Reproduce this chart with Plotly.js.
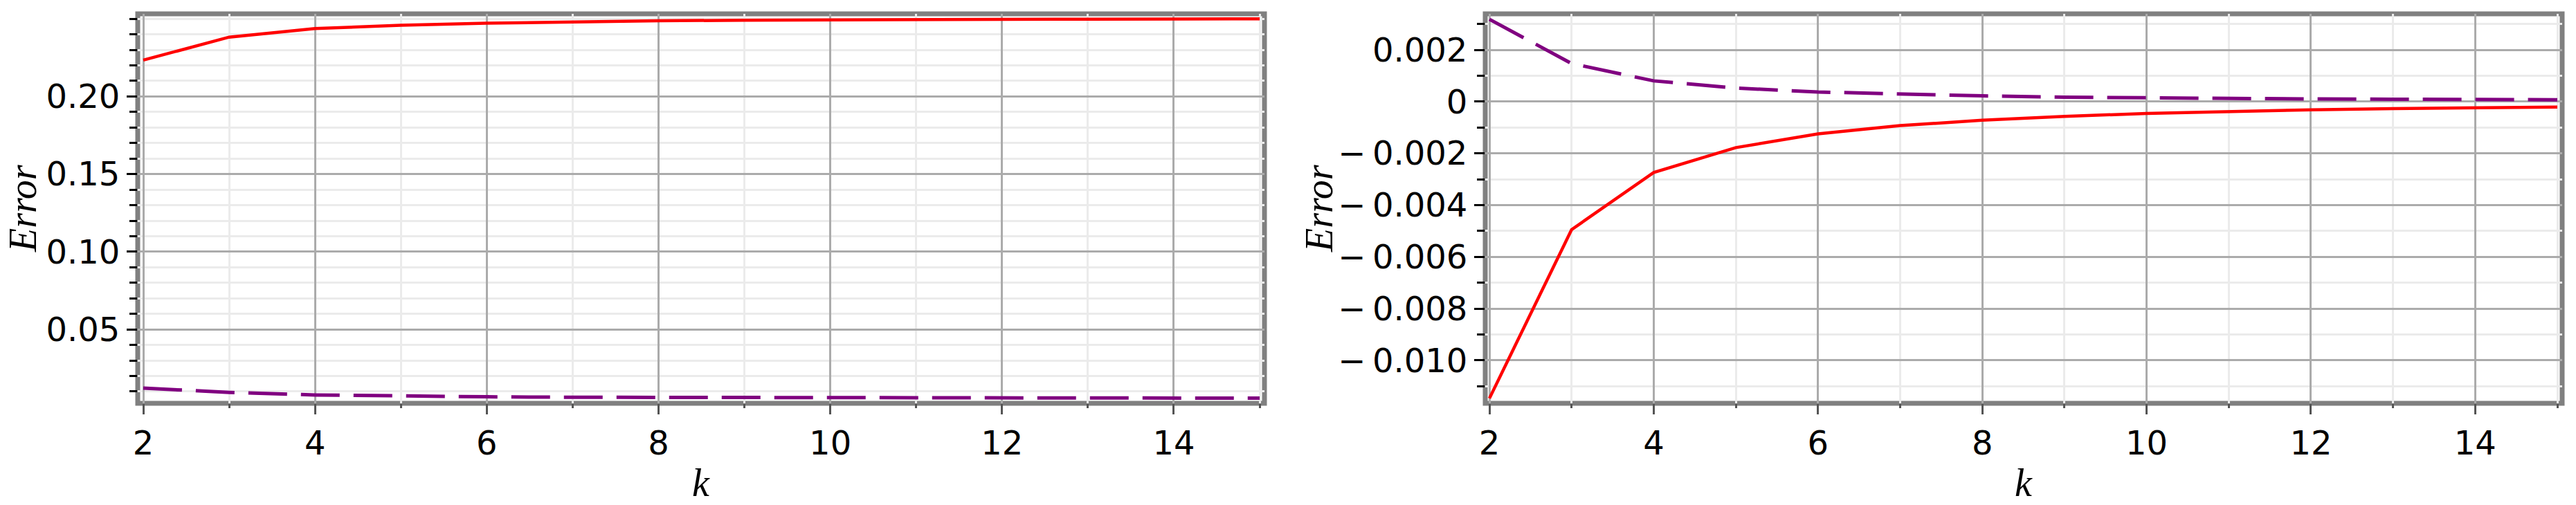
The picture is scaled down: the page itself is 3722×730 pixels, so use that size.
<!DOCTYPE html>
<html>
<head>
<meta charset="utf-8">
<script src="https://cdn.plot.ly/plotly-3.0.1.min.js"></script>
<style>html,body{margin:0;padding:0;background:#fff;}#plot{width:3722px;height:730px;}</style>
</head>
<body>
<div id="plot"></div>
<script>
// ---- data ----
const k = [2, 3, 4, 5, 6, 7, 8, 9, 10, 11, 12, 13, 14, 15];
const errRedLeft = [0.2234, 0.2382, 0.2437, 0.2458, 0.2472, 0.2481, 0.2487, 0.2491, 0.2494, 0.2496, 0.2497, 0.2498, 0.2499, 0.2500];
const errPurpleLeft = [0.0122, 0.0094, 0.0078, 0.0070, 0.0066, 0.0063, 0.0062, 0.0061, 0.0060, 0.0059, 0.0058, 0.0058, 0.0057, 0.0057];
const errRedRight = [-0.01147, -0.00495, -0.00274, -0.00178, -0.00125, -0.00093, -0.00072, -0.00057, -0.00046, -0.00038, -0.00032, -0.00027, -0.00024, -0.00021];
const errPurpleRight = [0.00318, 0.00147, 0.00080, 0.00052, 0.00037, 0.00028, 0.00022, 0.00017, 0.00014, 0.00012, 0.00010, 0.00009, 0.00008, 0.00007];

const xTickVals = [2, 4, 6, 8, 10, 12, 14];
const xTickText = ['2', '4', '6', '8', '10', '12', '14'];
const yTickValsLeft = [0.05, 0.10, 0.15, 0.20];
const yTickTextLeft = ['0.05', '0.10', '0.15', '0.20'];
const yTickValsRight = [-0.010, -0.008, -0.006, -0.004, -0.002, 0, 0.002];
const yTickTextRight = ['\u2212\u20090.010', '\u2212\u20090.008', '\u2212\u20090.006', '\u2212\u20090.004', '\u2212\u20090.002', '0', '0.002'];
const xTitle = 'k';
const yTitle = 'Error';

// ---- styles ----
const W = 3722, H = 730;
const tickFont = {family: 'DejaVu Sans', size: 48, color: '#000'};
const majorGrid = '#ababab', minorGrid = '#ebebeb';

function xAxis(domain, range, anchor) {
  return {
    domain: domain, range: range, anchor: anchor,
    tickmode: 'array', tickvals: xTickVals, ticktext: xTickText,
    ticks: 'outside', ticklen: 15, tickwidth: 3, tickcolor: '#555',
    showgrid: true, gridcolor: majorGrid, gridwidth: 3,
    minor: {tickmode: 'linear', tick0: 1, dtick: 1, ticks: 'outside', ticklen: 6, tickwidth: 3, tickcolor: '#555',
            showgrid: true, gridcolor: minorGrid, gridwidth: 3},
    showline: false, zeroline: false, tickfont: tickFont, fixedrange: true
  };
}
function yAxis(range, vals, text, anchor, minorD) {
  return {
    domain: [147 / H, 710 / H], range: range, anchor: anchor,
    tickmode: 'array', tickvals: vals, ticktext: text,
    ticks: 'outside', ticklen: 15, tickwidth: 3, tickcolor: '#000',
    showgrid: true, gridcolor: majorGrid, gridwidth: 3,
    minor: {tickmode: 'linear', tick0: 0, dtick: minorD, ticks: 'outside', ticklen: 11, tickwidth: 3, tickcolor: '#000',
            showgrid: true, gridcolor: minorGrid, gridwidth: 3},
    showline: false, zeroline: false, tickfont: tickFont, fixedrange: true
  };
}

const redLine = {color: '#ff0000', width: 4.5};
const purpleLine = {color: '#800080', width: 5, dash: '56px,20px'};

const traces = [
  {x: k, y: errRedLeft, xaxis: 'x', yaxis: 'y', mode: 'lines', line: redLine, hoverinfo: 'skip'},
  {x: k, y: errPurpleLeft, xaxis: 'x', yaxis: 'y', mode: 'lines', line: purpleLine, hoverinfo: 'skip'},
  {x: k, y: errRedRight, xaxis: 'x2', yaxis: 'y2', mode: 'lines', line: redLine, hoverinfo: 'skip'},
  {x: k, y: errPurpleRight, xaxis: 'x2', yaxis: 'y2', mode: 'lines', line: purpleLine, hoverinfo: 'skip'}
];

const boxL = {type: 'rect', xref: 'x domain', yref: 'y domain', x0: 0, x1: 1, y0: 0, y1: 1,
              line: {color: '#808080', width: 7}, layer: 'below'};
const boxR = {type: 'rect', xref: 'x2 domain', yref: 'y2 domain', x0: 0, x1: 1, y0: 0, y1: 1,
              line: {color: '#808080', width: 7}, layer: 'below'};

const titleFont = {family: 'Liberation Serif', size: 56, color: '#000'};
const annotations = [
  {text: '<i>' + yTitle + '</i>', xref: 'paper', yref: 'paper', x: 33 / W, y: (H - 302) / H, textangle: -90,
   showarrow: false, xanchor: 'center', yanchor: 'middle', font: titleFont},
  {text: '<i>' + yTitle + '</i>', xref: 'paper', yref: 'paper', x: 1906 / W, y: (H - 302) / H, textangle: -90,
   showarrow: false, xanchor: 'center', yanchor: 'middle', font: titleFont},
  {text: '<i>' + xTitle + '</i>', xref: 'paper', yref: 'paper', x: 1013 / W, y: 0,
   showarrow: false, xanchor: 'center', yanchor: 'bottom', borderpad: 0, font: titleFont},
  {text: '<i>' + xTitle + '</i>', xref: 'paper', yref: 'paper', x: 2924 / W, y: 0,
   showarrow: false, xanchor: 'center', yanchor: 'bottom', borderpad: 0, font: titleFont}
];

const layout = {
  width: W, height: H,
  margin: {l: 0, r: 0, t: 0, b: 0},
  paper_bgcolor: '#fff', plot_bgcolor: '#fff',
  showlegend: false,
  xaxis: xAxis([199 / W, 1827 / W], [1.9355, 15.056], 'y'),
  yaxis: yAxis([0.0024, 0.2532], yTickValsLeft, yTickTextLeft, 'x', 0.01),
  xaxis2: xAxis([2146 / W, 3702 / W], [1.949, 15.059], 'y2'),
  yaxis2: yAxis([-0.01166, 0.00339], yTickValsRight, yTickTextRight, 'x2', 0.001),
  shapes: [boxL, boxR],
  annotations: annotations
};

Plotly.newPlot('plot', traces, layout, {staticPlot: true, displayModeBar: false});
</script>
</body>
</html>
